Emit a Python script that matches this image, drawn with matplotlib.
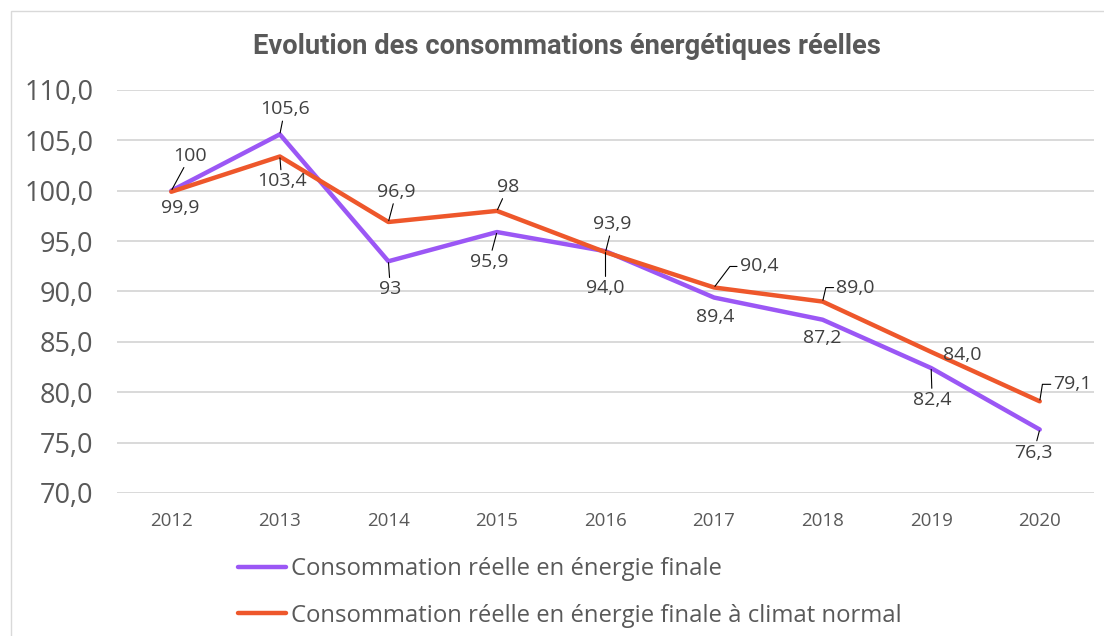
import matplotlib
matplotlib.use("Agg")
import matplotlib.pyplot as plt
from matplotlib.patches import Rectangle
from matplotlib.ticker import FuncFormatter

# ---------------- data ----------------
years = ["2012", "2013", "2014", "2015", "2016", "2017", "2018", "2019", "2020"]
reelle = [100.0, 105.6, 93.0, 95.9, 94.0, 89.4, 87.2, 82.4, 76.3]
climat_normal = [99.9, 103.4, 96.9, 98.0, 93.9, 90.4, 89.0, 84.0, 79.1]
labels_reelle = ["100", "105,6", "93", "95,9", "94,0", "89,4", "87,2", "82,4", "76,3"]
labels_climat = ["99,9", "103,4", "96,9", "98", "93,9", "90,4", "89,0", "84,0", "79,1"]
series_names = ["Consommation réelle en énergie finale",
                "Consommation réelle en énergie finale à climat normal"]
title = "Evolution des consommations énergétiques réelles"
y_ticks = [70, 75, 80, 85, 90, 95, 100, 105, 110]

# ---------------- style / layout ----------------
PURPLE = "#9B57F5"
ORANGE = "#EE572B"
GRID = "#D9D9D9"
TXT = "#595959"
LBL = "#404040"
FONT = ["Open Sans", "DejaVu Sans"]
plt.rcParams["font.family"] = FONT

# label offsets in pixels (dx, dy up), leader flag, elbow angle
off_reelle = [(19, 35), (5, 25), (2, -28), (-8, -30), (0, -37), (1, -19), (0, -18), (1, -32), (-6, -23)]
lead_reelle = [True, True, True, True, True, False, False, True, True]
off_climat = [(9, -16), (2, -25), (8, 30), (11, 24), (7, 28), (45, 21), (33, 14), (31, -3), (33, 17)]
lead_climat = [False, True, True, True, True, True, True, False, True]
elbow_climat = [None, None, None, None, None, 53, 77, None, 81]

W, H = 1104, 636
fig = plt.figure(figsize=(W / 100, H / 100), dpi=100)
ax = fig.add_axes([117 / W, 1 - 493 / H, (1094 - 117) / W, (493 - 90) / H])

x = list(range(len(years)))
ax.plot(x, reelle, color=PURPLE, lw=3.2, solid_capstyle="round", solid_joinstyle="round",
        label=series_names[0], zorder=3)
ax.plot(x, climat_normal, color=ORANGE, lw=3.2, solid_capstyle="round", solid_joinstyle="round",
        label=series_names[1], zorder=4)

ax.set_xlim(-0.5, len(years) - 0.5)
ax.set_ylim(y_ticks[0], y_ticks[-1])
ax.set_yticks(y_ticks)
ax.yaxis.set_major_formatter(FuncFormatter(lambda v, p: f"{v:.1f}".replace(".", ",")))
ax.set_xticks(x)
ax.set_xticklabels(years)
ax.grid(axis="y", color=GRID, lw=1.4)
ax.set_axisbelow(True)
for s in ax.spines.values():
    s.set_visible(False)
ax.tick_params(axis="y", length=0, pad=17, labelsize=19.5, labelcolor=TXT)
ax.tick_params(axis="x", length=0, pad=14, labelsize=13.5, labelcolor=TXT)

def annotate(vals, labels, offs, leads, elbows=None):
    for i, (v, t, o, ld) in enumerate(zip(vals, labels, offs, leads)):
        kw = {}
        if ld:
            cs = "arc3"
            if elbows is not None and elbows[i] is not None:
                cs = f"angle,angleA=0,angleB={elbows[i]},rad=0"
            kw["arrowprops"] = dict(arrowstyle="-", color="black", lw=0.8,
                                    shrinkA=0, shrinkB=1, connectionstyle=cs)
        ax.annotate(t, xy=(i, v), xytext=(o[0] * 0.72, o[1] * 0.72),
                    textcoords="offset points", ha="center", va="center",
                    fontsize=14, color=LBL, zorder=5, **kw)

annotate(reelle, labels_reelle, off_reelle, lead_reelle)
annotate(climat_normal, labels_climat, off_climat, lead_climat, elbow_climat)

fig.text(567 / W, 1 - 46 / H, title, ha="center", va="center", fontsize=19.7,
         fontweight="bold", color=TXT, family=["Roboto", "DejaVu Sans"])

fig.legend(loc="upper left", bbox_to_anchor=(238 / W, 1 - 557 / H), frameon=False,
           fontsize=17.2, handlelength=2.0, handletextpad=0.2, labelspacing=0.95,
           borderpad=0, borderaxespad=0, labelcolor=TXT)

fig.patches.append(Rectangle((11 / W, -0.1), 2, 1.1 - 11 / H, transform=fig.transFigure,
                             fill=False, edgecolor=GRID, lw=1.0))

fig.savefig("out.png", dpi=100)
